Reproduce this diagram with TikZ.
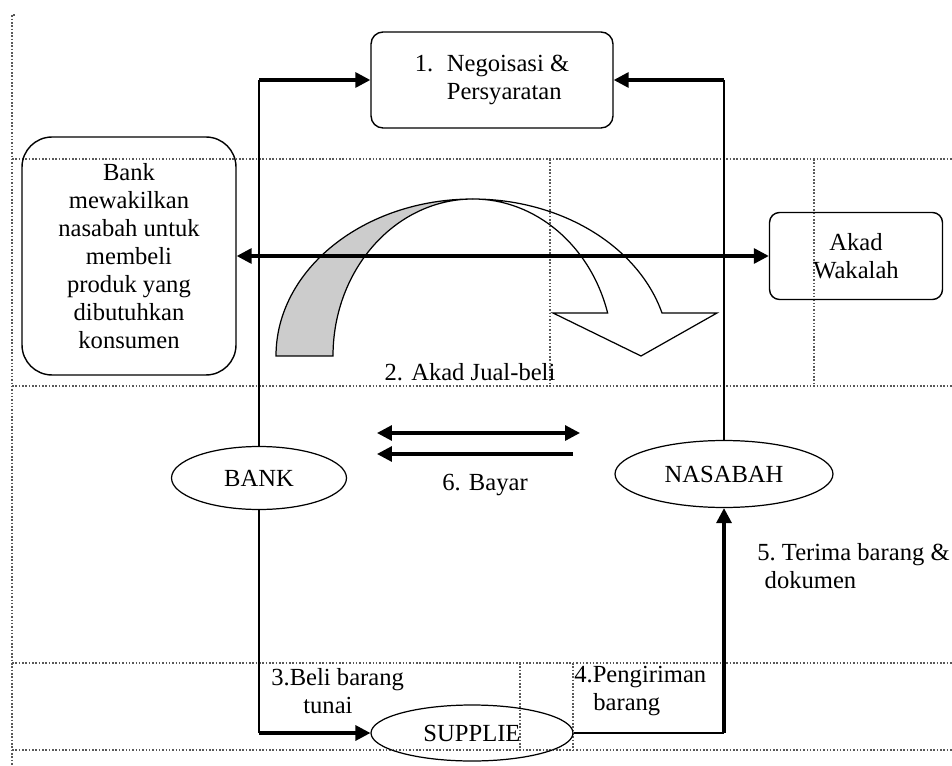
\documentclass[tikz,border=0pt]{standalone}
\usepackage{fontspec}
\setmainfont{Liberation Serif}
\usetikzlibrary{shapes.geometric,arrows.meta}

\begin{document}
\begin{tikzpicture}[x=0.02cm, y=-0.02cm, font=\fontsize{14}{16}\selectfont,
  kotak/.style={draw, rounded corners=0.24cm, line width=0.8pt, inner sep=0pt},
  oval/.style={ellipse, draw, line width=0.7pt, inner sep=0pt},
  tebal/.style={line width=1.8pt, -{Triangle[length=8.5pt,width=8.5pt]}},
  duaarah/.style={line width=1.8pt, {Triangle[length=8.5pt,width=8.5pt]}-{Triangle[length=8.5pt,width=8.5pt]}},
  tipis/.style={line width=0.6pt},
  garis/.style={densely dotted, line width=0.9pt, black!65}]

\useasboundingbox (0,0) rectangle (952,766);

% panah lengkung
\filldraw[fill=black!20, line width=0.7pt] (473,199) arc[start angle=270, end angle=180, x radius=197, y radius=157]
  -- (333,356) arc[start angle=180, end angle=270, x radius=140, y radius=157] -- cycle;
\draw[line width=0.7pt] (473,199) arc[start angle=270, end angle=344.1, x radius=140, y radius=157]
  -- (553,313) -- (641,356) -- (717,313) -- (662,313)
  arc[start angle=344.1, end angle=270, x radius=197, y radius=157] -- cycle;

% garis tabel
\draw[garis] (15,15) -- (12,15) -- (12,766);
\foreach \y in {159,386,663,750}
  \draw[garis] (12,\y) -- (952,\y);
\draw[garis] (550,159) -- (550,386);
\draw[garis] (814,159) -- (814,386);
\draw[garis] (520,663) -- (520,750);
\draw[garis] (573,663) -- (573,750);

\begin{scope}[every node/.style={kotak}]
  \node[minimum width=4.84cm, minimum height=1.92cm, align=left] (nego) at (492,80)
    {\makebox[1.3em][l]{1.}Negoisasi \&\\\hspace*{1.3em}Persyaratan};
  \node[minimum width=4.28cm, minimum height=4.76cm, rounded corners=0.6cm, align=center] (bankbox) at (129,256)
    {Bank\\mewakilkan\\nasabah untuk\\membeli\\produk yang\\dibutuhkan\\konsumen};
  \node[minimum width=3.46cm, minimum height=1.74cm, rounded corners=0.2cm, align=center] (akad) at (856,256)
    {Akad\\Wakalah};
\end{scope}

\begin{scope}[every node/.style={oval}]
  \node[minimum width=3.5cm, minimum height=1.26cm] (bank) at (259,478) {BANK};
  \node[minimum width=4.36cm, minimum height=1.34cm] (nasabah) at (724,474) {NASABAH};
  \node[minimum width=4.04cm, minimum height=1.12cm] (supplie) at (472,733) {SUPPLIE};
\end{scope}

\node (akadjb) at (470,372) {2. Akad Jual-beli};
\node (bayar) at (485,485) {6. Bayar};
\node[anchor=west, inner sep=0pt, align=left] (terima) at (757,566) {5.~Terima barang \&\\\hspace*{0.3em}dokumen};
\node[anchor=west, inner sep=0pt, align=left] (beli) at (271,691) {3.Beli barang\\\hspace*{0.64cm}tunai};
\node[anchor=west, inner sep=0pt, align=left] (kirim) at (574,691) {4.Pengiriman\\\hspace*{0.38cm}barang};

\coordinate (kiri) at (bank.north |- nego.west);
\coordinate (kanan) at (nasabah.north |- nego.east);
\coordinate (bawahkiri) at (bank.south |- supplie.west);
\coordinate (bawahkanan) at (nasabah.south |- supplie.east);
\coordinate (b1) at (377,433);
\coordinate (b2) at (580,433);
\coordinate (c1) at (573,454);
\coordinate (c2) at (377,454);

\draw[tipis] (bank.north) -- (kiri);
\draw[tebal] (kiri) -- (nego.west);
\draw[tipis] (nasabah.north) -- (kanan);
\draw[tebal] (kanan) -- (nego.east);
\draw[duaarah] (bankbox.east) -- (akad.west);
\draw[duaarah] (b1) -- (b2);
\draw[tebal] (c1) -- (c2);
\draw[tipis] (bank.south) -- (bawahkiri);
\draw[tebal] (bawahkiri) -- (supplie.west);
\draw[tipis] (supplie.east) -- (bawahkanan);
\draw[tebal] (bawahkanan) -- (nasabah.south);
\end{tikzpicture}
\end{document}
